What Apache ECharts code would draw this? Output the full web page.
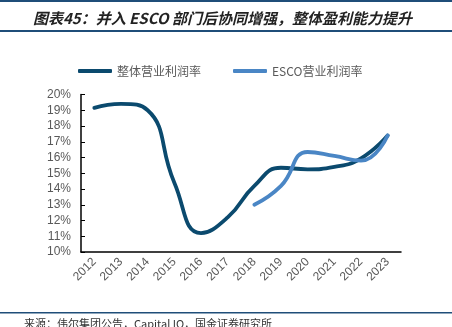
<!DOCTYPE html>
<html><head><meta charset="utf-8">
<script src="https://cdn.jsdelivr.net/npm/echarts@6/dist/echarts.min.js"></script>
<style>html,body{margin:0;padding:0;background:#fff}#c{width:452px;height:327px}</style>
</head><body><div id="c"></div>
<script>
const categories = ['2012','2013','2014','2015','2016','2017','2018','2019','2020','2021','2022','2023'];
const totalMargin = [19.15, 19.4, 19.0, 14.4, 11.2, 12.2, 14.2, 15.35, 15.25, 15.4, 15.95, 17.4];
const escoMargin = [null, null, null, null, null, null, 13.0, 14.2, 16.35, 16.1, 15.8, 17.4];
const seriesNames = ['整体营业利润率', 'ESCO营业利润率'];
const titleText = '图表45：并入 ESCO 部门后协同增强，整体盈利能力提升';
const sourceText = '来源：伟尔集团公告，Capital IQ，国金证券研究所';

const chart = echarts.init(document.getElementById('c'));
const gray = '#595959';
chart.setOption({
  animation: false,
  backgroundColor: '#fff',
  title: {
    text: titleText, left: 28, top: 6,
    textStyle: {fontFamily: 'Noto Sans CJK SC', fontStyle: 'italic', fontWeight: 'bold', fontSize: 15, color: '#222'}
  },
  graphic: [
    {type: 'rect', shape: {x: 0, y: 0, width: 452, height: 2}, style: {fill: '#1f4e79'}},
    {type: 'rect', shape: {x: 0, y: 30, width: 452, height: 2}, style: {fill: '#1f4e79'}},
    {type: 'rect', shape: {x: 0, y: 312, width: 452, height: 1.5}, style: {fill: '#1f4e79'}},
    {type: 'text', left: 24, top: 318, style: {text: sourceText, font: '11px "Noto Sans CJK SC"', fill: '#333'}}
  ],
  legend: {
    top: 60, left: 73, itemGap: 32, itemWidth: 34, itemHeight: 4,
    icon: 'roundRect',
    textStyle: {color: gray, fontSize: 12, fontFamily: 'Noto Sans CJK SC'},
    data: seriesNames
  },
  grid: {left: 81, right: 51, top: 94.5, bottom: 75},
  xAxis: {
    type: 'category', data: categories, boundaryGap: true,
    axisLine: {lineStyle: {color: '#000', width: 1.5}},
    axisTick: {inside: true, length: 4, lineStyle: {color: '#000'}},
    axisLabel: {rotate: 45, color: gray, fontSize: 12, fontFamily: 'Liberation Sans', margin: 8}
  },
  yAxis: {
    type: 'value', min: 10, max: 20, interval: 1,
    axisLine: {show: true, lineStyle: {color: '#000', width: 1.5}},
    axisTick: {show: true, inside: true, length: 4, lineStyle: {color: '#000'}},
    splitLine: {show: false},
    axisLabel: {formatter: '{value}%', color: gray, fontSize: 12, fontFamily: 'Liberation Sans', margin: 10}
  },
  series: [
    {name: seriesNames[0], type: 'line', data: totalMargin, smooth: 0.5, showSymbol: false, symbol: 'none',
     lineStyle: {color: '#0b4a6e', width: 3.8, cap: 'round'}, itemStyle: {color: '#0b4a6e'}, z: 2},
    {name: seriesNames[1], type: 'line', data: escoMargin, smooth: 0.5, showSymbol: false, symbol: 'none',
     lineStyle: {color: '#4a86c5', width: 3.8, cap: 'round'}, itemStyle: {color: '#4a86c5'}, z: 3}
  ]
});
</script></body></html>
